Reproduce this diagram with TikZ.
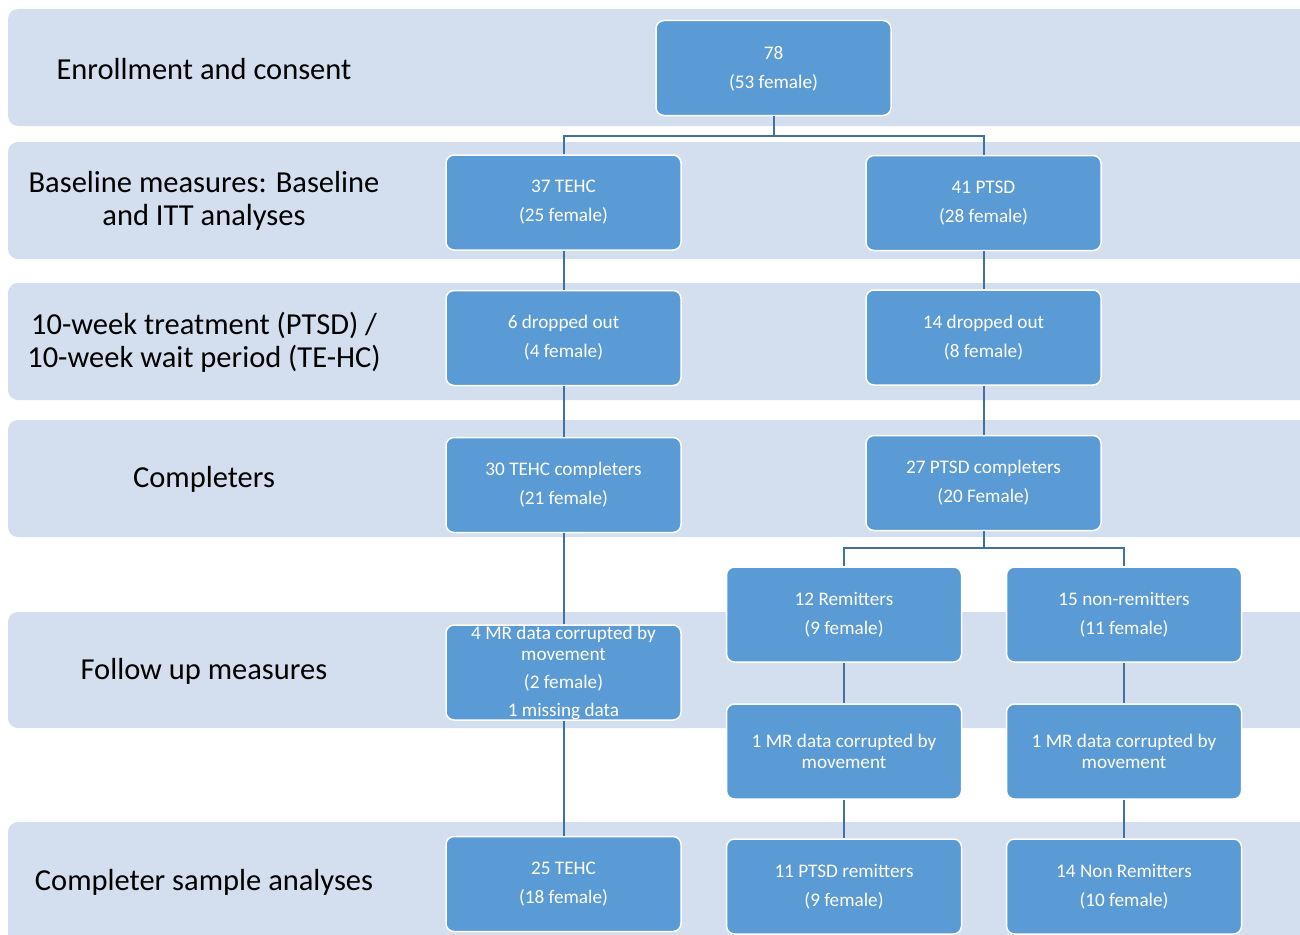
\documentclass[tikz,border=0pt]{standalone}
\usepackage{fontspec}
\setmainfont{Carlito}
\begin{document}
\begin{tikzpicture}[x=1pt,y=-1pt,
  band/.style={fill=bandblue,draw=none,rounded corners=10pt},
  lbl/.style={font=\fontsize{30.5}{33}\selectfont,text=black,align=center,inner sep=0pt},
  box/.style={rectangle,rounded corners=8pt,fill=boxblue,draw=white,line width=1.5pt,
    minimum width=235pt,minimum height=95pt,inner sep=0pt,text=white,align=center,
    font=\fontsize{19.2}{21}\selectfont},
  conn/.style={draw=lineblue,line width=2pt}]
\definecolor{bandblue}{HTML}{D3DEEE}
\definecolor{boxblue}{HTML}{5B9BD5}
\definecolor{lineblue}{HTML}{41719C}
\useasboundingbox (0,0) rectangle (1300,934);
\clip (0,0) rectangle (1300,934);
% bands
\fill[band] (8,9) rectangle (1330,126);
\fill[band] (8,142) rectangle (1330,259);
\fill[band] (8,283) rectangle (1330,400);
\fill[band] (8,420) rectangle (1330,537);
\fill[band] (8,612) rectangle (1330,728);
\fill[band] (8,822) rectangle (1330,960);
% stage labels
\node[lbl] (l1) at (204,69) {Enrollment and consent};
\node[lbl] (l2) at (204,201) {Baseline measures: Baseline\\and ITT analyses};
\node[lbl] (l3) at (204,342) {10-week treatment (PTSD) /\\10-week wait period (TE-HC)};
\node[lbl] (l4) at (204,479) {Completers};
\node[lbl] (l5) at (204,671) {Follow up measures};
\node[lbl] (l6) at (204,882) {Completer sample analyses};
\coordinate (s1) at (773.5,136);
\coordinate (s2) at (983.5,548);
% boxes
\node[box] (n78) at (773.5,68) {\strut78\\[8pt](53 female)};
\node[box] (tehc) at (563.5,202.5) {37 TEHC\\[8pt](25 female)};
\node[box] (ptsd) at (983.5,203) {41 PTSD\\[8pt](28 female)};
\node[box] (dropA) at (563.5,338) {6 dropped out\\[8pt](4 female)};
\node[box] (dropB) at (983.5,337.5) {14 dropped out\\[8pt](8 female)};
\node[box] (compA) at (563.5,485) {30 TEHC completers\\[8pt](21 female)};
\node[box] (compB) at (983.5,483) {27 PTSD completers\\[8pt](20 Female)};
\node[box] (rem) at (844,614.5) {12 Remitters\\[8pt](9 female)};
\node[box] (nonrem) at (1124,614.5) {15 non-remitters\\[8pt](11 female)};
\node[box] (mrA) at (563.5,672.5) {4 MR data corrupted by\\movement\\[7pt](2 female)\\[7pt]1 missing data};
\node[box] (mrB) at (844,751.5) {1 MR data corrupted by\\movement};
\node[box] (mrC) at (1124,751.5) {1 MR data corrupted by\\movement};
\node[box] (finA) at (563.5,884) {25 TEHC\\[8pt](18 female)};
\node[box] (finB) at (844,886.5) {11 PTSD remitters\\[8pt](9 female)};
\node[box] (finC) at (1124,886.5) {14 Non Remitters\\[8pt](10 female)};
% connectors
\draw[conn] (n78.south) -- (s1);
\draw[conn] (s1) -| (tehc.north);
\draw[conn] (s1) -| (ptsd.north);
\draw[conn] (tehc) -- (dropA);
\draw[conn] (dropA) -- (compA);
\draw[conn] (compA) -- (mrA);
\draw[conn] (mrA) -- (finA);
\draw[conn] (ptsd) -- (dropB);
\draw[conn] (dropB) -- (compB);
\draw[conn] (compB.south) -- (s2);
\draw[conn] (s2) -| (rem.north);
\draw[conn] (s2) -| (nonrem.north);
\draw[conn] (rem) -- (mrB);
\draw[conn] (mrB) -- (finB);
\draw[conn] (nonrem) -- (mrC);
\draw[conn] (mrC) -- (finC);
\end{tikzpicture}
\end{document}
